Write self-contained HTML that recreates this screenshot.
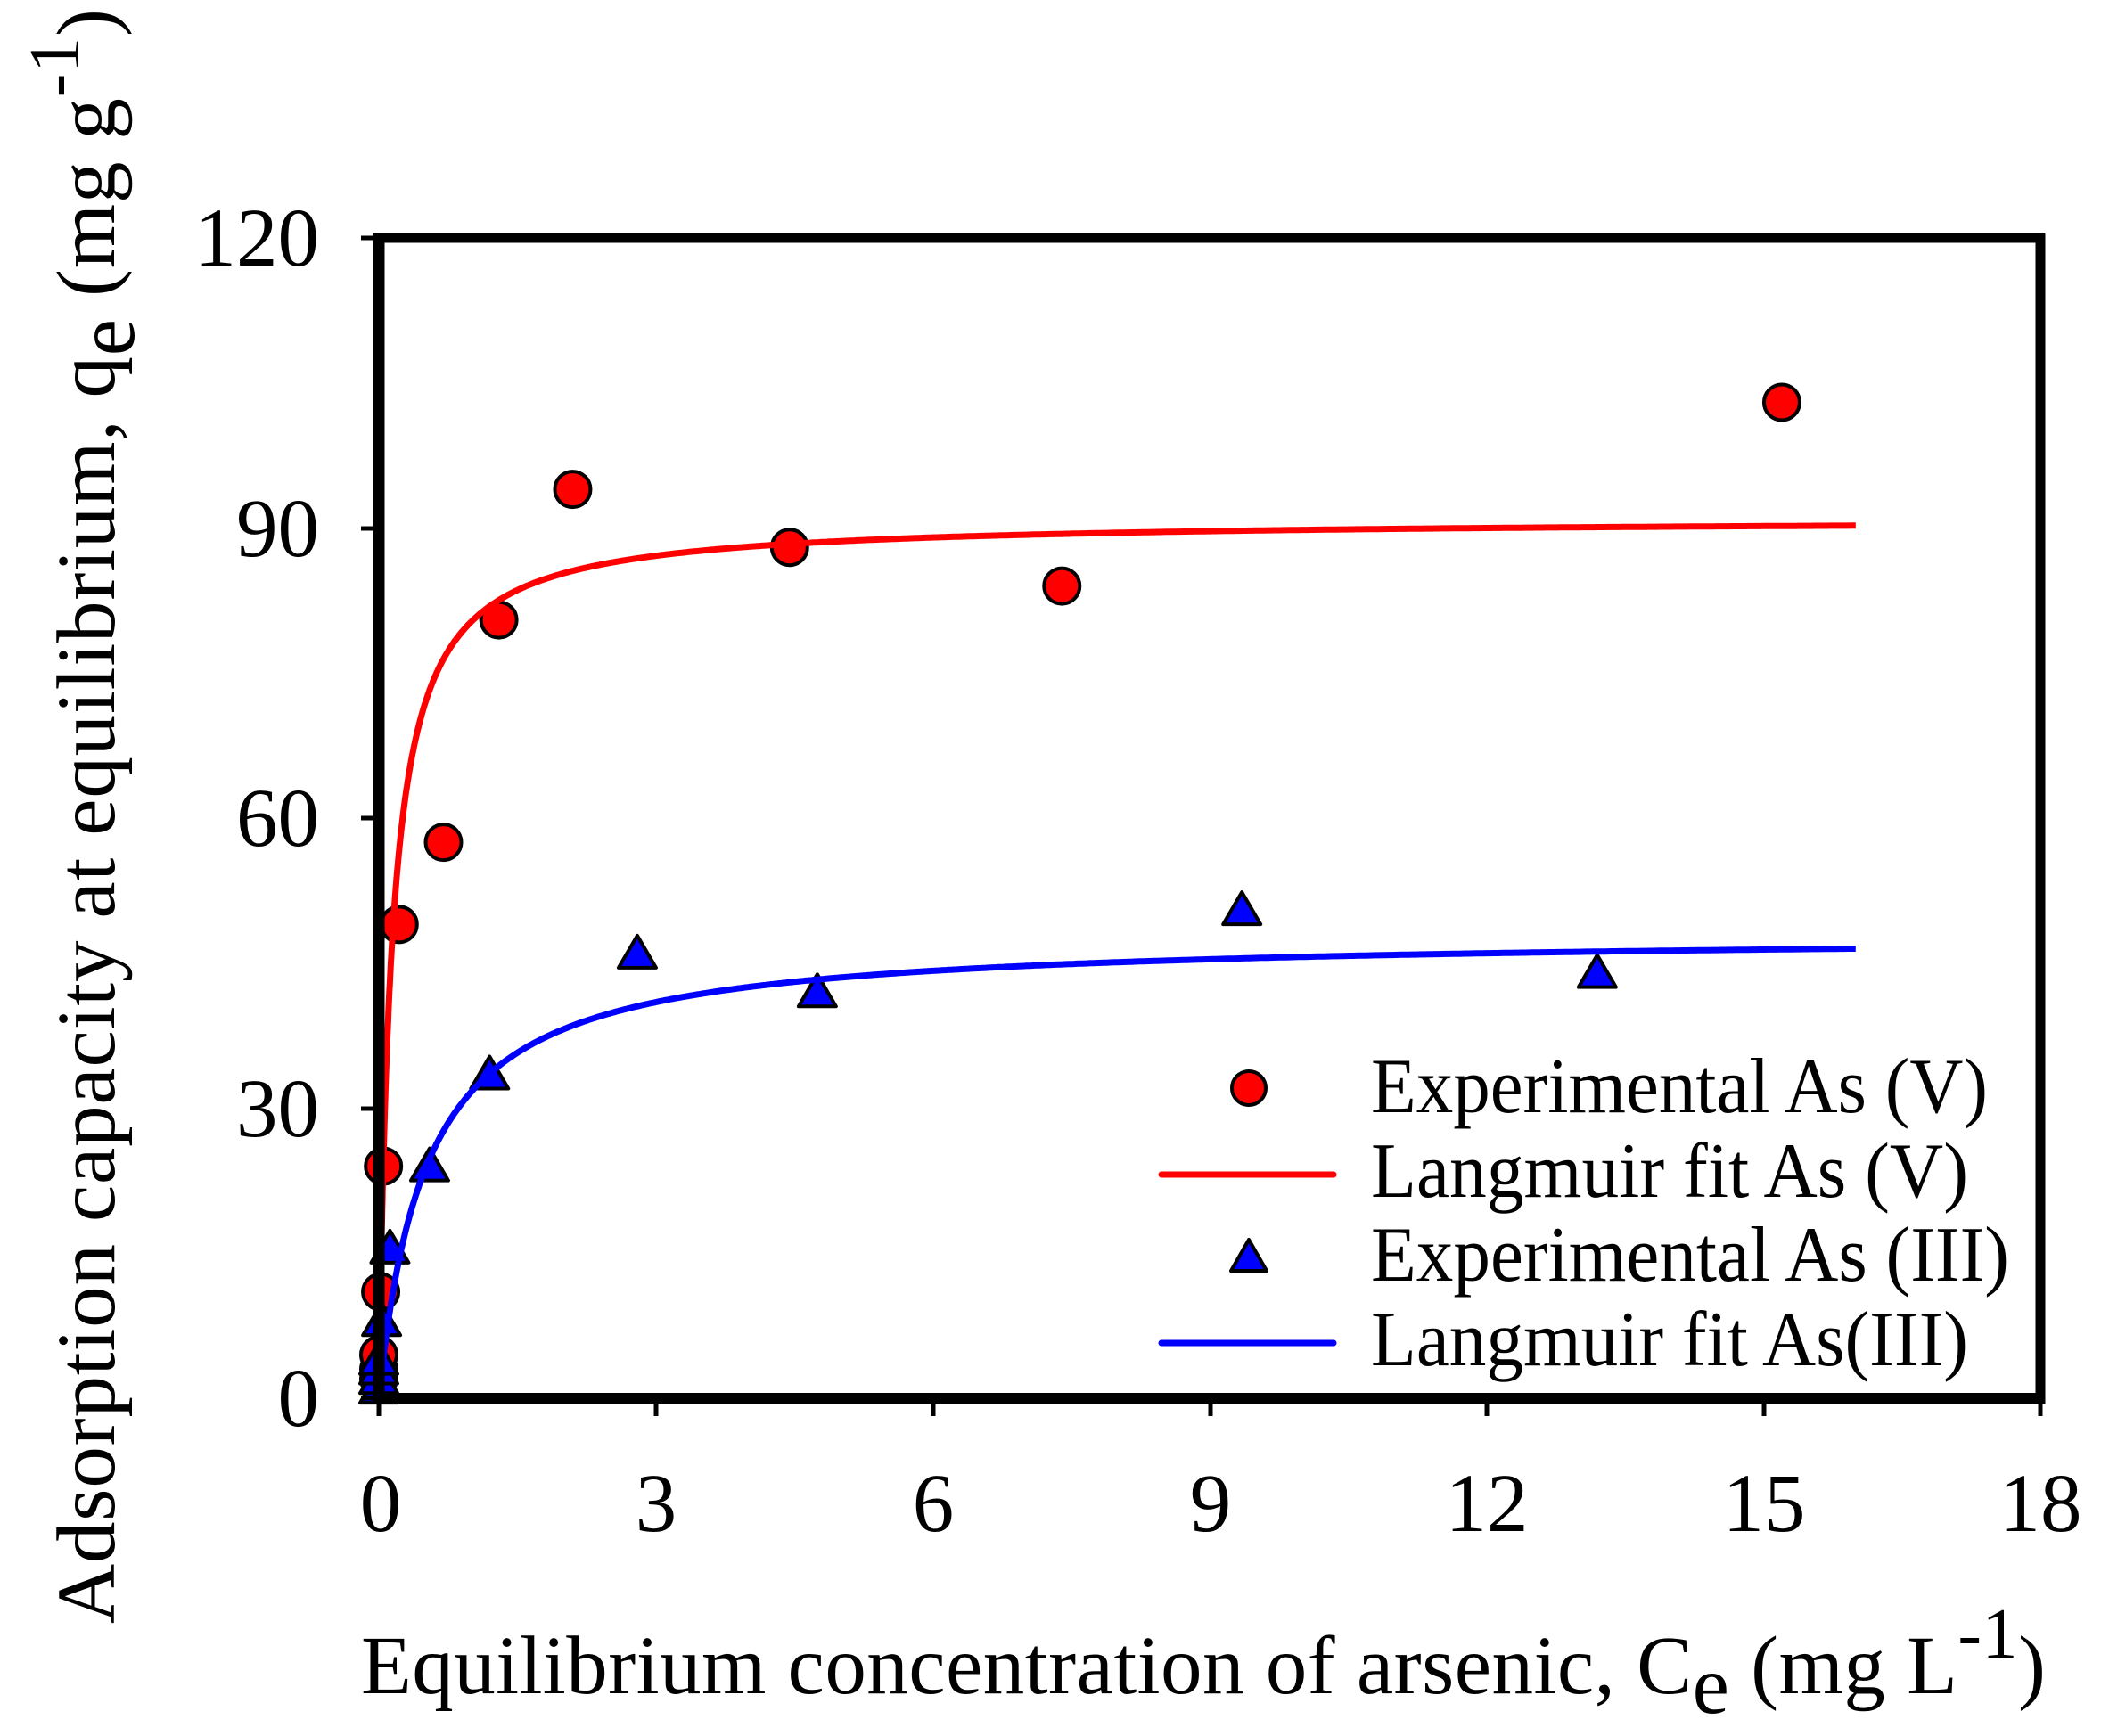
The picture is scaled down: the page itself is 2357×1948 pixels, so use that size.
<!DOCTYPE html>
<html><head><meta charset="utf-8"><style>
html,body{margin:0;padding:0;background:#fff;}
svg{display:block;}
text{font-family:"Liberation Serif",serif;fill:#000;}
</style></head><body>
<svg id="s" width="2357" height="1948" viewBox="0 0 2357 1948" xmlns="http://www.w3.org/2000/svg">
<rect width="2357" height="1948" fill="#fff"/>
<g id="data"></g>
<line x1="425" y1="262" x2="425" y2="1575" stroke="#000" stroke-width="13"/>
<line x1="419" y1="1569" x2="2294" y2="1569" stroke="#000" stroke-width="12"/>
<line x1="419" y1="267" x2="2294" y2="267" stroke="#000" stroke-width="11"/>
<line x1="2289" y1="262" x2="2289" y2="1575" stroke="#000" stroke-width="11"/>
<g stroke="#000" stroke-width="5">
<line x1="405" y1="267" x2="425" y2="267"/><line x1="405" y1="593" x2="425" y2="593"/><line x1="405" y1="918" x2="425" y2="918"/><line x1="405" y1="1244" x2="425" y2="1244"/><line x1="405" y1="1569" x2="425" y2="1569"/>
<line x1="425" y1="1569" x2="425" y2="1589"/><line x1="736" y1="1569" x2="736" y2="1589"/><line x1="1047" y1="1569" x2="1047" y2="1589"/><line x1="1358" y1="1569" x2="1358" y2="1589"/><line x1="1668" y1="1569" x2="1668" y2="1589"/><line x1="1979" y1="1569" x2="1979" y2="1589"/><line x1="2289" y1="1569" x2="2289" y2="1589"/>
</g>
<g font-size="93" text-anchor="end">
<text x="358" y="298">120</text><text x="358" y="624">90</text><text x="358" y="949">60</text><text x="358" y="1275">30</text><text x="358" y="1600">0</text>
</g>
<g font-size="93" text-anchor="middle">
<text x="427" y="1718">0</text><text x="736" y="1718">3</text><text x="1047" y="1718">6</text><text x="1358" y="1718">9</text><text x="1668" y="1718">12</text><text x="1979" y="1718">15</text><text x="2289" y="1718">18</text>
</g>
<text x="405" y="1900" font-size="93" textLength="1890" lengthAdjust="spacing">Equilibrium concentration of arsenic, C<tspan dy="22">e</tspan><tspan dy="-22"> (mg L</tspan><tspan dy="-40" font-size="80">-1</tspan><tspan dy="40">)</tspan></text>
<text transform="translate(128,1822) rotate(-90)" font-size="93" textLength="1812" lengthAdjust="spacing">Adsorption capacity at equilibrium, q<tspan dy="22">e</tspan><tspan dy="-22"> (mg g</tspan><tspan dy="-40" font-size="80">-1</tspan><tspan dy="40">)</tspan></text>
<circle cx="1401" cy="1221" r="19" fill="#f00" stroke="#000" stroke-width="4"/>
<line x1="1303" y1="1318" x2="1496" y2="1318" stroke="#f00" stroke-width="7" stroke-linecap="round"/>
<polygon points="1401,1391 1421,1426 1381,1426" fill="#00f" stroke="#000" stroke-width="4" stroke-linejoin="round"/>
<line x1="1303" y1="1507" x2="1496" y2="1507" stroke="#00f" stroke-width="7" stroke-linecap="round"/>
<g font-size="88">
<text x="1538" y="1248" textLength="692" lengthAdjust="spacingAndGlyphs">Experimental As (V)</text>
<text x="1538" y="1343" textLength="670" lengthAdjust="spacingAndGlyphs">Langmuir fit As (V)</text>
<text x="1538" y="1437" textLength="716" lengthAdjust="spacingAndGlyphs">Experimental As (III)</text>
<text x="1538" y="1532" textLength="670" lengthAdjust="spacingAndGlyphs">Langmuir fit As(III)</text>
</g>
</svg>
<script>
(function(){
var X=function(x){return 425+x*103.55},Y=function(y){return 1569-y*10.85};
var ns="http://www.w3.org/2000/svg",g=document.getElementById("data");
function el(t,a){var e=document.createElementNS(ns,t);for(var k in a)e.setAttribute(k,a[k]);g.appendChild(e);return e;}
var red=[[0,2],[0,3],[0,4.5],[0.02,11],[0.05,24],[0.22,49],[0.7,57.5],[1.3,80.5],[2.1,94],[4.45,88],[7.4,84],[15.2,103]];
var blue=[[0,1],[0,2],[0,3],[0,4],[0.03,8],[0.12,15.5],[0.55,24],[1.2,33.5],[2.8,46],[4.75,42],[9.35,50.5],[13.2,44]];
red.forEach(function(p){el("circle",{cx:X(p[0]),cy:Y(p[1]),r:20,fill:"#f00",stroke:"#000","stroke-width":4});});
function curve(qm,b,col){var d="";for(var i=0;i<=800;i++){var x=16*Math.pow(i/800,2.2);var q=qm*b*x/(1+b*x);d+=(i?"L":"M")+X(x).toFixed(1)+","+Y(q).toFixed(1);}el("path",{d:d,fill:"none",stroke:col,"stroke-width":7,"stroke-linejoin":"round"});}
curve(91,7.5,"#f00");
blue.forEach(function(p){var cx=X(p[0]),cy=Y(p[1]);el("polygon",{points:cx+","+(cy-20)+" "+(cx+21)+","+(cy+16)+" "+(cx-21)+","+(cy+16),fill:"#00f",stroke:"#000","stroke-width":4,"stroke-linejoin":"round"});});
curve(48,1.94,"#00f");
})();
</script>
</body></html>
